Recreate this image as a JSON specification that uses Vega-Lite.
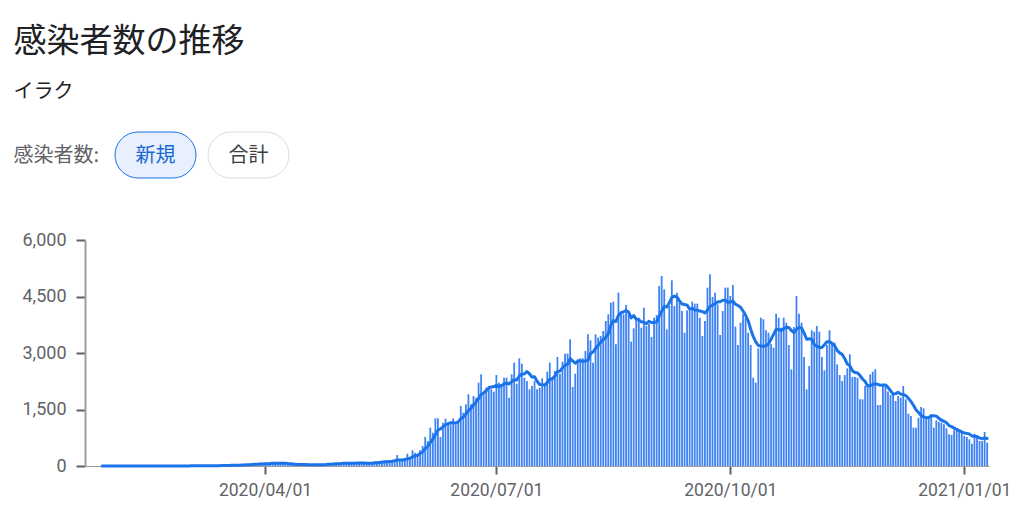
{
  "$schema": "https://vega.github.io/schema/vega-lite/v6.json",
  "background": "white",
  "padding": {"left": 13, "top": 25, "right": 0, "bottom": 5},
  "title": {
    "text": "感染者数の推移",
    "subtitle": "イラク",
    "anchor": "start",
    "font": "Noto Sans CJK JP",
    "fontSize": 33,
    "fontWeight": "normal",
    "color": "#202124",
    "subtitleFont": "Noto Sans CJK JP",
    "subtitleFontSize": 20,
    "subtitleColor": "#202124",
    "subtitlePadding": 23,
    "offset": 30,
    "dx": 0
  },
  "spacing": 52,
  "config": {"view": {"stroke": null}},
  "vconcat": [
    {
      "width": 234,
      "height": 46,
      "data": {"values": [{"b": "新規"}, {"b": "合計"}]},
      "encoding": {
        "x": {"field": "b", "type": "nominal", "sort": null, "scale": {"domain": ["新規", "合計"], "paddingInner": 0.129, "paddingOuter": 0.3226}, "axis": null}
      },
      "layer": [
        {
          "mark": {"type": "rect", "cornerRadius": 23, "strokeWidth": 1},
          "encoding": {
            "fill": {"field": "b", "type": "nominal", "scale": {"domain": ["新規", "合計"], "range": ["#e8f0fe", "#ffffff"]}, "legend": null},
            "stroke": {"field": "b", "type": "nominal", "scale": {"domain": ["新規", "合計"], "range": ["#1a73e8", "#dadce0"]}, "legend": null}
          }
        },
        {
          "mark": {"type": "text", "font": "Noto Sans CJK JP", "fontSize": 20, "baseline": "middle", "dy": 1},
          "encoding": {
            "text": {"field": "b"},
            "color": {"field": "b", "type": "nominal", "scale": {"domain": ["新規", "合計"], "range": ["#1967d2", "#3c4043"]}, "legend": null}
          }
        },
        {
          "data": {"values": [{"b": "新規", "t": "感染者数:"}]},
          "mark": {"type": "text", "font": "Noto Sans CJK JP", "fontSize": 20, "align": "right", "baseline": "middle", "dx": -16, "dy": 1, "color": "#5f6368"},
          "encoding": {
            "x": {"field": "b", "type": "nominal", "bandPosition": 0},
            "text": {"field": "t"}
          }
        }
      ]
    },
    {
      "width": 904,
      "height": 226,
      "data": {"values": [
{"d":"2020-01-22","n":0},{"d":"2020-01-23","n":0},{"d":"2020-01-24","n":0},{"d":"2020-01-25","n":0},{"d":"2020-01-26","n":0},{"d":"2020-01-27","n":0},
{"d":"2020-01-28","n":0,"a":0},{"d":"2020-01-29","n":0,"a":0},{"d":"2020-01-30","n":0,"a":0},{"d":"2020-01-31","n":0,"a":0},
{"d":"2020-02-01","n":0,"a":0},{"d":"2020-02-02","n":0,"a":0},{"d":"2020-02-03","n":0,"a":0},{"d":"2020-02-04","n":0,"a":0},{"d":"2020-02-05","n":0,"a":0},{"d":"2020-02-06","n":0,"a":0},{"d":"2020-02-07","n":0,"a":0},{"d":"2020-02-08","n":0,"a":0},{"d":"2020-02-09","n":0,"a":0},{"d":"2020-02-10","n":0,"a":0},
{"d":"2020-02-11","n":0,"a":0},{"d":"2020-02-12","n":0,"a":0},{"d":"2020-02-13","n":0,"a":0},{"d":"2020-02-14","n":0,"a":0},{"d":"2020-02-15","n":0,"a":0},{"d":"2020-02-16","n":0,"a":0},{"d":"2020-02-17","n":0,"a":0},{"d":"2020-02-18","n":0,"a":0},{"d":"2020-02-19","n":0,"a":0},{"d":"2020-02-20","n":0,"a":0},
{"d":"2020-02-21","n":0,"a":0},{"d":"2020-02-22","n":0,"a":0},{"d":"2020-02-23","n":0,"a":0},{"d":"2020-02-24","n":1,"a":0},{"d":"2020-02-25","n":4,"a":1},{"d":"2020-02-26","n":1,"a":1},{"d":"2020-02-27","n":1,"a":1},{"d":"2020-02-28","n":0,"a":1},{"d":"2020-02-29","n":6,"a":2},
{"d":"2020-03-01","n":6,"a":2},{"d":"2020-03-02","n":0,"a":2},{"d":"2020-03-03","n":12,"a":4},{"d":"2020-03-04","n":5,"a":4},{"d":"2020-03-05","n":4,"a":5},{"d":"2020-03-06","n":8,"a":6},{"d":"2020-03-07","n":10,"a":6},{"d":"2020-03-08","n":8,"a":8},{"d":"2020-03-09","n":6,"a":6},{"d":"2020-03-10","n":6,"a":7},
{"d":"2020-03-11","n":0,"a":6},{"d":"2020-03-12","n":9,"a":7},{"d":"2020-03-13","n":13,"a":7},{"d":"2020-03-14","n":17,"a":9},{"d":"2020-03-15","n":14,"a":11},{"d":"2020-03-16","n":14,"a":12},{"d":"2020-03-17","n":30,"a":16},{"d":"2020-03-18","n":10,"a":15},{"d":"2020-03-19","n":24,"a":17},{"d":"2020-03-20","n":16,"a":18},
{"d":"2020-03-21","n":25,"a":19},{"d":"2020-03-22","n":33,"a":22},{"d":"2020-03-23","n":33,"a":24},{"d":"2020-03-24","n":50,"a":27},{"d":"2020-03-25","n":30,"a":30},{"d":"2020-03-26","n":36,"a":32},{"d":"2020-03-27","n":76,"a":40},{"d":"2020-03-28","n":48,"a":44},{"d":"2020-03-29","n":52,"a":46},{"d":"2020-03-30","n":84,"a":54},{"d":"2020-03-31","n":64,"a":56},
{"d":"2020-04-01","n":78,"a":62},{"d":"2020-04-02","n":44,"a":63},{"d":"2020-04-03","n":57,"a":65},{"d":"2020-04-04","n":111,"a":73},{"d":"2020-04-05","n":83,"a":74},{"d":"2020-04-06","n":70,"a":71},{"d":"2020-04-07","n":84,"a":75},{"d":"2020-04-08","n":60,"a":73},{"d":"2020-04-09","n":51,"a":74},{"d":"2020-04-10","n":43,"a":66},
{"d":"2020-04-11","n":41,"a":62},{"d":"2020-04-12","n":39,"a":56},{"d":"2020-04-13","n":26,"a":47},{"d":"2020-04-14","n":24,"a":40},{"d":"2020-04-15","n":64,"a":41},{"d":"2020-04-16","n":52,"a":41},{"d":"2020-04-17","n":19,"a":38},{"d":"2020-04-18","n":32,"a":35},{"d":"2020-04-19","n":24,"a":34},{"d":"2020-04-20","n":35,"a":36},
{"d":"2020-04-21","n":28,"a":33},{"d":"2020-04-22","n":28,"a":31},{"d":"2020-04-23","n":36,"a":32},{"d":"2020-04-24","n":57,"a":34},{"d":"2020-04-25","n":56,"a":38},{"d":"2020-04-26","n":75,"a":45},{"d":"2020-04-27","n":55,"a":48},{"d":"2020-04-28","n":70,"a":54},{"d":"2020-04-29","n":74,"a":60},{"d":"2020-04-30","n":48,"a":62},
{"d":"2020-05-01","n":67,"a":65},{"d":"2020-05-02","n":85,"a":70},{"d":"2020-05-03","n":69,"a":70},{"d":"2020-05-04","n":102,"a":74},{"d":"2020-05-05","n":97,"a":76},{"d":"2020-05-06","n":48,"a":74},{"d":"2020-05-07","n":81,"a":78},{"d":"2020-05-08","n":69,"a":79},{"d":"2020-05-09","n":91,"a":80},{"d":"2020-05-10","n":60,"a":78},
{"d":"2020-05-11","n":71,"a":74},{"d":"2020-05-12","n":77,"a":76},{"d":"2020-05-13","n":62,"a":76},{"d":"2020-05-14","n":133,"a":80},{"d":"2020-05-15","n":101,"a":86},{"d":"2020-05-16","n":130,"a":93},{"d":"2020-05-17","n":140,"a":101},{"d":"2020-05-18","n":131,"a":110},{"d":"2020-05-19","n":145,"a":115},{"d":"2020-05-20","n":150,"a":120},
{"d":"2020-05-21","n":155,"a":125},{"d":"2020-05-22","n":150,"a":140},{"d":"2020-05-23","n":292,"a":158},{"d":"2020-05-24","n":150,"a":160},{"d":"2020-05-25","n":150,"a":160},{"d":"2020-05-26","n":150,"a":170},{"d":"2020-05-27","n":327,"a":195},{"d":"2020-05-28","n":221,"a":205},{"d":"2020-05-29","n":416,"a":240},{"d":"2020-05-30","n":350,"a":270},{"d":"2020-05-31","n":300,"a":285},
{"d":"2020-06-01","n":416,"a":330},{"d":"2020-06-02","n":531,"a":380},{"d":"2020-06-03","n":770,"a":460},{"d":"2020-06-04","n":663,"a":525},{"d":"2020-06-05","n":1018,"a":620},{"d":"2020-06-06","n":885,"a":710},{"d":"2020-06-07","n":1265,"a":830},{"d":"2020-06-08","n":1265,"a":950},{"d":"2020-06-09","n":770,"a":985},{"d":"2020-06-10","n":1150,"a":1040},
{"d":"2020-06-11","n":1256,"a":1100},{"d":"2020-06-12","n":1150,"a":1120},{"d":"2020-06-13","n":1106,"a":1150},{"d":"2020-06-14","n":1265,"a":1150},{"d":"2020-06-15","n":1106,"a":1140},{"d":"2020-06-16","n":1150,"a":1170},{"d":"2020-06-17","n":1593,"a":1260},{"d":"2020-06-18","n":1416,"a":1300},{"d":"2020-06-19","n":1637,"a":1380},{"d":"2020-06-20","n":1903,"a":1470},
{"d":"2020-06-21","n":1637,"a":1530},{"d":"2020-06-22","n":1858,"a":1620},{"d":"2020-06-23","n":1814,"a":1700},{"d":"2020-06-24","n":2212,"a":1790},{"d":"2020-06-25","n":2434,"a":1900},{"d":"2020-06-26","n":1903,"a":1940},{"d":"2020-06-27","n":2080,"a":2000},{"d":"2020-06-28","n":2124,"a":2070},{"d":"2020-06-29","n":2036,"a":2100},{"d":"2020-06-30","n":1974,"a":2110},
{"d":"2020-07-01","n":2416,"a":2138},{"d":"2020-07-02","n":2212,"a":2106},{"d":"2020-07-03","n":2124,"a":2138},{"d":"2020-07-04","n":2345,"a":2176},{"d":"2020-07-05","n":2345,"a":2207},{"d":"2020-07-06","n":1814,"a":2176},{"d":"2020-07-07","n":2434,"a":2241},{"d":"2020-07-08","n":2743,"a":2288},{"d":"2020-07-09","n":2186,"a":2284},{"d":"2020-07-10","n":2859,"a":2389},
{"d":"2020-07-11","n":2717,"a":2443},{"d":"2020-07-12","n":2345,"a":2443},{"d":"2020-07-13","n":2257,"a":2506},{"d":"2020-07-14","n":2036,"a":2449},{"d":"2020-07-15","n":2124,"a":2361},{"d":"2020-07-16","n":2257,"a":2371},{"d":"2020-07-17","n":2036,"a":2253},{"d":"2020-07-18","n":2080,"a":2162},{"d":"2020-07-19","n":2328,"a":2160},{"d":"2020-07-20","n":2168,"a":2147},
{"d":"2020-07-21","n":2505,"a":2214},{"d":"2020-07-22","n":2744,"a":2303},{"d":"2020-07-23","n":2345,"a":2315},{"d":"2020-07-24","n":2522,"a":2385},{"d":"2020-07-25","n":2894,"a":2501},{"d":"2020-07-26","n":2451,"a":2518},{"d":"2020-07-27","n":2770,"a":2604},{"d":"2020-07-28","n":2982,"a":2673},{"d":"2020-07-29","n":2982,"a":2707},{"d":"2020-07-30","n":3363,"a":2852},{"d":"2020-07-31","n":2097,"a":2791},
{"d":"2020-08-01","n":2451,"a":2728},{"d":"2020-08-02","n":2832,"a":2782},{"d":"2020-08-03","n":2859,"a":2795},{"d":"2020-08-04","n":2859,"a":2778},{"d":"2020-08-05","n":3053,"a":2788},{"d":"2020-08-06","n":3496,"a":2807},{"d":"2020-08-07","n":3336,"a":2984},{"d":"2020-08-08","n":2744,"a":3026},{"d":"2020-08-09","n":3496,"a":3120},{"d":"2020-08-10","n":3407,"a":3199},
{"d":"2020-08-11","n":3452,"a":3283},{"d":"2020-08-12","n":3584,"a":3359},{"d":"2020-08-13","n":3850,"a":3410},{"d":"2020-08-14","n":4027,"a":3509},{"d":"2020-08-15","n":4337,"a":3736},{"d":"2020-08-16","n":4363,"a":3860},{"d":"2020-08-17","n":3230,"a":3835},{"d":"2020-08-18","n":4602,"a":3999},{"d":"2020-08-19","n":4071,"a":4069},{"d":"2020-08-20","n":4027,"a":4094},
{"d":"2020-08-21","n":4275,"a":4129},{"d":"2020-08-22","n":4027,"a":4085},{"d":"2020-08-23","n":3301,"a":3933},{"d":"2020-08-24","n":3655,"a":3994},{"d":"2020-08-25","n":3938,"a":3899},{"d":"2020-08-26","n":3938,"a":3880},{"d":"2020-08-27","n":3673,"a":3830},{"d":"2020-08-28","n":4203,"a":3819},{"d":"2020-08-29","n":3717,"a":3775},{"d":"2020-08-30","n":3779,"a":3843},{"d":"2020-08-31","n":3425,"a":3810},
{"d":"2020-09-01","n":3938,"a":3810},{"d":"2020-09-02","n":4009,"a":3821},{"d":"2020-09-03","n":4779,"a":3979},{"d":"2020-09-04","n":5045,"a":4099},{"d":"2020-09-05","n":4691,"a":4238},{"d":"2020-09-06","n":3629,"a":4217},{"d":"2020-09-07","n":4248,"a":4334},{"d":"2020-09-08","n":4930,"a":4476},{"d":"2020-09-09","n":4248,"a":4510},{"d":"2020-09-10","n":4602,"a":4485},
{"d":"2020-09-11","n":4336,"a":4383},{"d":"2020-09-12","n":4115,"a":4301},{"d":"2020-09-13","n":3540,"a":4288},{"d":"2020-09-14","n":4133,"a":4272},{"d":"2020-09-15","n":4204,"a":4168},{"d":"2020-09-16","n":4363,"a":4185},{"d":"2020-09-17","n":4310,"a":4143},{"d":"2020-09-18","n":4310,"a":4139},{"d":"2020-09-19","n":3938,"a":4114},{"d":"2020-09-20","n":3452,"a":4101},
{"d":"2020-09-21","n":3850,"a":4061},{"d":"2020-09-22","n":4735,"a":4137},{"d":"2020-09-23","n":5089,"a":4241},{"d":"2020-09-24","n":4487,"a":4266},{"d":"2020-09-25","n":4602,"a":4308},{"d":"2020-09-26","n":4292,"a":4358},{"d":"2020-09-27","n":3478,"a":4362},{"d":"2020-09-28","n":4115,"a":4400},{"d":"2020-09-29","n":4735,"a":4400},{"d":"2020-09-30","n":4735,"a":4349},
{"d":"2020-10-01","n":4514,"a":4353},{"d":"2020-10-02","n":4806,"a":4382},{"d":"2020-10-03","n":3700,"a":4298},{"d":"2020-10-04","n":3212,"a":4260},{"d":"2020-10-05","n":3805,"a":4215},{"d":"2020-10-06","n":4027,"a":4114},{"d":"2020-10-07","n":3938,"a":4000},{"d":"2020-10-08","n":3540,"a":3861},{"d":"2020-10-09","n":3212,"a":3633},{"d":"2020-10-10","n":2345,"a":3440},
{"d":"2020-10-11","n":2212,"a":3297},{"d":"2020-10-12","n":3124,"a":3200},{"d":"2020-10-13","n":3938,"a":3187},{"d":"2020-10-14","n":3894,"a":3181},{"d":"2020-10-15","n":3602,"a":3190},{"d":"2020-10-16","n":3540,"a":3236},{"d":"2020-10-17","n":3230,"a":3363},{"d":"2020-10-18","n":3142,"a":3496},{"d":"2020-10-19","n":4044,"a":3627},{"d":"2020-10-20","n":3938,"a":3627},
{"d":"2020-10-21","n":3673,"a":3596},{"d":"2020-10-22","n":3938,"a":3644},{"d":"2020-10-23","n":3805,"a":3681},{"d":"2020-10-24","n":3213,"a":3679},{"d":"2020-10-25","n":2566,"a":3597},{"d":"2020-10-26","n":3690,"a":3546},{"d":"2020-10-27","n":4514,"a":3628},{"d":"2020-10-28","n":4044,"a":3681},{"d":"2020-10-29","n":3805,"a":3662},{"d":"2020-10-30","n":2894,"a":3532},{"d":"2020-10-31","n":2036,"a":3364},
{"d":"2020-11-01","n":2655,"a":3377},{"d":"2020-11-02","n":3602,"a":3364},{"d":"2020-11-03","n":3566,"a":3229},{"d":"2020-11-04","n":3717,"a":3182},{"d":"2020-11-05","n":3566,"a":3148},{"d":"2020-11-06","n":2894,"a":3148},{"d":"2020-11-07","n":2540,"a":3220},{"d":"2020-11-08","n":3213,"a":3300},{"d":"2020-11-09","n":3602,"a":3300},{"d":"2020-11-10","n":3275,"a":3258},
{"d":"2020-11-11","n":3275,"a":3195},{"d":"2020-11-12","n":2700,"a":3071},{"d":"2020-11-13","n":2416,"a":3003},{"d":"2020-11-14","n":2257,"a":2963},{"d":"2020-11-15","n":2416,"a":2849},{"d":"2020-11-16","n":2593,"a":2705},{"d":"2020-11-17","n":2965,"a":2660},{"d":"2020-11-18","n":2363,"a":2530},{"d":"2020-11-19","n":2363,"a":2482},{"d":"2020-11-20","n":2345,"a":2472},
{"d":"2020-11-21","n":1770,"a":2402},{"d":"2020-11-22","n":1770,"a":2310},{"d":"2020-11-23","n":2124,"a":2243},{"d":"2020-11-24","n":2150,"a":2126},{"d":"2020-11-25","n":2434,"a":2137},{"d":"2020-11-26","n":2504,"a":2157},{"d":"2020-11-27","n":2566,"a":2188},{"d":"2020-11-28","n":1620,"a":2167},{"d":"2020-11-29","n":1620,"a":2145},{"d":"2020-11-30","n":2150,"a":2149},
{"d":"2020-12-01","n":2170,"a":2152},{"d":"2020-12-02","n":1980,"a":2087},{"d":"2020-12-03","n":1885,"a":1999},{"d":"2020-12-04","n":1920,"a":1906},{"d":"2020-12-05","n":1726,"a":1922},{"d":"2020-12-06","n":1858,"a":1956},{"d":"2020-12-07","n":1814,"a":1908},{"d":"2020-12-08","n":2124,"a":1901},{"d":"2020-12-09","n":1770,"a":1871},{"d":"2020-12-10","n":1389,"a":1800},
{"d":"2020-12-11","n":1328,"a":1716},{"d":"2020-12-12","n":1018,"a":1614},{"d":"2020-12-13","n":1018,"a":1494},{"d":"2020-12-14","n":1283,"a":1419},{"d":"2020-12-15","n":1567,"a":1339},{"d":"2020-12-16","n":1531,"a":1305},{"d":"2020-12-17","n":1283,"a":1290},{"d":"2020-12-18","n":1283,"a":1283},{"d":"2020-12-19","n":1372,"a":1334},{"d":"2020-12-20","n":1018,"a":1334},
{"d":"2020-12-21","n":1212,"a":1324},{"d":"2020-12-22","n":1177,"a":1268},{"d":"2020-12-23","n":1150,"a":1214},{"d":"2020-12-24","n":1106,"a":1188},{"d":"2020-12-25","n":1000,"a":1148},{"d":"2020-12-26","n":841,"a":1072},{"d":"2020-12-27","n":823,"a":1044},{"d":"2020-12-28","n":947,"a":1006},{"d":"2020-12-29","n":929,"a":971},{"d":"2020-12-30","n":912,"a":937},{"d":"2020-12-31","n":885,"a":905},
{"d":"2021-01-01","n":797,"a":876},{"d":"2021-01-02","n":770,"a":866},{"d":"2021-01-03","n":708,"a":850},{"d":"2021-01-04","n":593,"a":799},{"d":"2021-01-05","n":858,"a":789},{"d":"2021-01-06","n":823,"a":776},{"d":"2021-01-07","n":664,"a":745},{"d":"2021-01-08","n":664,"a":726},{"d":"2021-01-09","n":903,"a":745},{"d":"2021-01-10","n":620,"a":732}
      ]},
      "encoding": {
        "x": {
          "field": "d",
          "type": "temporal",
          "scale": {
            "type": "utc",
            "padding": 0,
            "domain": [
              {"year": 2020, "month": 1, "date": 21, "hours": 5, "minutes": 17, "utc": true},
              {"year": 2021, "month": 1, "date": 10, "hours": 17, "minutes": 17, "utc": true}
            ]
          },
          "axis": {
            "values": [
              {"year": 2020, "month": 4, "date": 1, "utc": true},
              {"year": 2020, "month": 7, "date": 1, "utc": true},
              {"year": 2020, "month": 10, "date": 1, "utc": true},
              {"year": 2021, "month": 1, "date": 1, "utc": true}
            ],
            "format": "%Y/%m/%d",
            "title": null,
            "grid": false,
            "domainColor": "#9e9e9e",
            "domainWidth": 1,
            "tickColor": "#616161",
            "tickWidth": 2,
            "tickSize": 8,
            "labelFont": "Roboto",
            "labelFontSize": 17.5,
            "labelColor": "#5f6368",
            "labelPadding": 7,
            "labelFlush": false,
            "labelOverlap": false,
            "labelBound": false
          }
        }
      },
      "layer": [
        {
          "mark": {"type": "bar", "width": 1.8, "color": "#3f83f3"},
          "encoding": {
            "y": {
              "field": "n",
              "type": "quantitative",
              "scale": {"domain": [0, 6000], "nice": false},
              "axis": {
                "values": [0, 1500, 3000, 4500, 6000],
                "format": ",d",
                "title": null,
                "grid": false,
                "domainColor": "#9e9e9e",
                "domainWidth": 2,
                "tickColor": "#616161",
                "tickWidth": 2,
                "tickSize": 9,
                "labelFont": "Roboto",
                "labelFontSize": 18,
                "labelColor": "#5f6368",
                "labelPadding": 10
              }
            }
          }
        },
        {
          "mark": {"type": "line", "color": "#1a73e8", "strokeWidth": 3, "strokeCap": "round", "strokeJoin": "round"},
          "encoding": {
            "y": {
              "field": "a",
              "type": "quantitative",
              "scale": {"domain": [0, 6000], "nice": false},
              "axis": {
                "values": [0, 1500, 3000, 4500, 6000],
                "format": ",d",
                "title": null,
                "grid": false,
                "domainColor": "#9e9e9e",
                "domainWidth": 2,
                "tickColor": "#616161",
                "tickWidth": 2,
                "tickSize": 9,
                "labelFont": "Roboto",
                "labelFontSize": 18,
                "labelColor": "#5f6368",
                "labelPadding": 10
              }
            }
          }
        }
      ]
    }
  ]
}
